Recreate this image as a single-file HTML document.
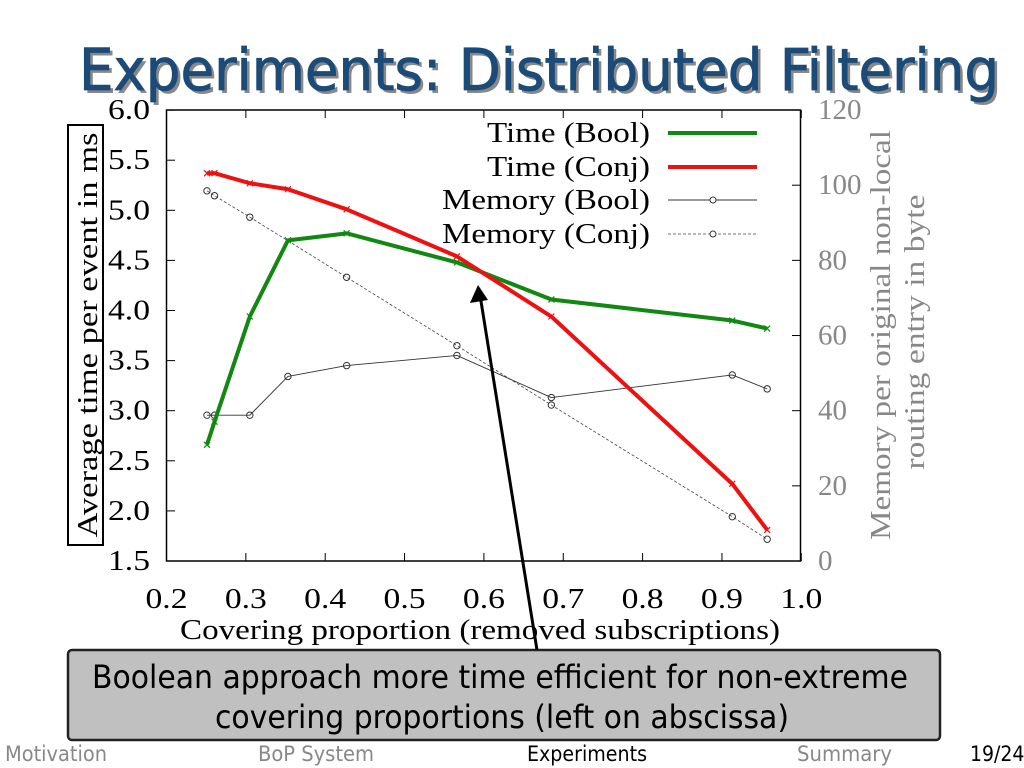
<!DOCTYPE html>
<html><head><meta charset="utf-8"><style>
html,body{margin:0;padding:0;background:#fff;width:1024px;height:768px;overflow:hidden}
svg{display:block}
.t{font-family:"Liberation Serif",serif;font-size:28px;fill:#000}
.g{fill:#888}
.f{font-family:"DejaVu Sans Condensed","Liberation Sans",sans-serif;font-size:21px}
</style></head><body>
<svg id="c" width="1024" height="768" viewBox="0 0 1024 768" xmlns="http://www.w3.org/2000/svg">
<text x="82" y="93" font-family="DejaVu Sans Condensed,Liberation Sans,sans-serif" font-size="58" fill="#888" textLength="920" lengthAdjust="spacingAndGlyphs">Experiments: Distributed Filtering</text>
<text x="79" y="90" font-family="DejaVu Sans Condensed,Liberation Sans,sans-serif" font-size="58" fill="#1b4b78" stroke="#1b4b78" stroke-width="0.8" textLength="920" lengthAdjust="spacingAndGlyphs">Experiments: Distributed Filtering</text>
<g id="plot"></g>
<rect x="68" y="125" width="35" height="420" fill="none" stroke="#000" stroke-width="2"/>
<text class="t" transform="translate(97,335) rotate(-90)" text-anchor="middle" font-size="30" textLength="405" lengthAdjust="spacingAndGlyphs">Average time per event in ms</text>
<text class="t g" transform="translate(890,335) rotate(-90)" text-anchor="middle" font-size="30" textLength="410" lengthAdjust="spacingAndGlyphs">Memory per original non-local</text>
<text class="t g" transform="translate(924,332) rotate(-90)" text-anchor="middle" font-size="30" textLength="275" lengthAdjust="spacingAndGlyphs">routing entry in byte</text>
<text class="t" x="480" y="639" text-anchor="middle" font-size="29" textLength="600" lengthAdjust="spacingAndGlyphs">Covering proportion (removed subscriptions)</text>
<rect x="68" y="650" width="872" height="90" rx="4" fill="#c0c0c0" stroke="#222" stroke-width="2.5"/>
<text x="500" y="688" text-anchor="middle" font-family="DejaVu Sans Condensed,Liberation Sans,sans-serif" font-size="32" textLength="816" lengthAdjust="spacingAndGlyphs">Boolean approach more time efficient for non-extreme</text>
<text x="502" y="728" text-anchor="middle" font-family="DejaVu Sans Condensed,Liberation Sans,sans-serif" font-size="32" textLength="574" lengthAdjust="spacingAndGlyphs">covering proportions (left on abscissa)</text>
<line x1="537" y1="650" x2="480" y2="295" stroke="#000" stroke-width="3"/>
<polygon points="478,285 470,303 488,300" fill="#000"/>
<text class="f" x="5" y="761" fill="#888" textLength="102" lengthAdjust="spacingAndGlyphs">Motivation</text>
<text class="f" x="258" y="761" fill="#888" textLength="116" lengthAdjust="spacingAndGlyphs">BoP System</text>
<text class="f" x="527" y="761" fill="#000" textLength="120" lengthAdjust="spacingAndGlyphs">Experiments</text>
<text class="f" x="797" y="761" fill="#888" textLength="95" lengthAdjust="spacingAndGlyphs">Summary</text>
<text class="f" x="970" y="761" fill="#000" font-size="19">19/24</text>
</svg>
<script>
const xsT=[0.251,0.2605,0.305,0.353,0.427,0.566,0.685,0.913,0.957];
const timeBool=[2.66,2.89,3.94,4.70,4.77,4.48,4.11,3.90,3.82];
const timeConj=[5.37,5.37,5.27,5.21,5.01,4.54,3.94,2.27,1.81];
const memBool=[38.8,38.8,38.8,49.1,52.0,54.7,43.5,49.5,45.8];
const xsMC=[0.251,0.2605,0.305,0.427,0.566,0.685,0.913,0.957];
const memConj=[98.5,97.2,91.5,75.5,57.3,41.5,11.8,5.8];
const xTicks=["0.2","0.3","0.4","0.5","0.6","0.7","0.8","0.9","1.0"];
const yTicks=["1.5","2.0","2.5","3.0","3.5","4.0","4.5","5.0","5.5","6.0"];
const y2Ticks=["0","20","40","60","80","100","120"];
const X=v=>166.5+(v-0.2)*793.5, Y=v=>561-(v-1.5)*100.2, Y2=v=>561-v*3.758;
const NS="http://www.w3.org/2000/svg", g=document.getElementById('plot');
function mk(t,a){const e=document.createElementNS(NS,t);for(const k in a)e.setAttribute(k,a[k]);g.appendChild(e);return e;}
let e=mk('rect',{x:166.5,y:110,width:634,height:451,fill:'none',stroke:'#000','stroke-width':1.5});


xTicks.forEach(t=>{const x=X(+t);
 e=mk('line',{x1:x,x2:x,y1:561,y2:553,stroke:'#000'});
 mk('line',{x1:x,x2:x,y1:110,y2:118,stroke:'#000'});
 e=mk('text',{x:x,y:608,class:'t','text-anchor':'middle',textLength:42,lengthAdjust:'spacingAndGlyphs'});e.textContent=t;});
yTicks.forEach(t=>{const y=Y(+t);
 e=mk('line',{x1:166.5,x2:175,y1:y,y2:y,stroke:'#000'});
 e=mk('text',{x:150,y:y+9,class:'t','text-anchor':'end',textLength:42,lengthAdjust:'spacingAndGlyphs'});e.textContent=t;});
y2Ticks.forEach(t=>{const y=Y2(+t);
 e=mk('line',{x1:792,x2:800.5,y1:y,y2:y,stroke:'#000'});
 e=mk('text',{x:818,y:y+9,class:'t g',textLength:t.length*14.5,lengthAdjust:'spacingAndGlyphs'});e.textContent=t;});
function series(xs,vs,fy,col,w,dash,mark,name){
 const pts=xs.map((x,i)=>X(x)+','+fy(vs[i])).join(' ');
 e=mk('polyline',{points:pts,fill:'none',stroke:col,'stroke-width':w,'stroke-dasharray':dash||'none','stroke-linejoin':'round'});
 
 xs.forEach((x,i)=>{const px=X(x),py=fy(vs[i]);
  if(mark==='o'){e=mk('circle',{cx:px,cy:py,r:3.2,fill:'none',stroke:'#333','stroke-width':1});}
  else{e=mk('path',{d:`M${px-3},${py-3}L${px+3},${py+3}M${px-3},${py+3}L${px+3},${py-3}`,stroke:col,'stroke-width':1.2});}
  });
}
series(xsMC,memConj,Y2,'#444',0.8,'3,2','o','memory-conj');
series(xsT,memBool,Y2,'#333',0.9,null,'o','memory-bool');
series(xsT,timeBool,Y,'#118811',4,null,'x','time-bool');
series(xsT,timeConj,Y,'#ee1111',4,null,'x','time-conj');
const leg=[["Time (Bool)",'#118811',4,null,'x',133,163],["Time (Conj)",'#ee1111',4,null,'x',167,163],["Memory (Bool)",'#333',0.9,null,'o',200,208],["Memory (Conj)",'#444',0.8,'3,2','o',234,208]];
leg.forEach(l=>{
 e=mk('text',{x:650,y:l[5]+9,class:'t','text-anchor':'end','font-size':30,textLength:l[6],lengthAdjust:'spacingAndGlyphs'});e.textContent=l[0];
 e=mk('line',{x1:668,x2:757,y1:l[5],y2:l[5],stroke:l[1],'stroke-width':l[2],'stroke-dasharray':l[3]||'none'});
 if(l[4]==='o'){e=mk('circle',{cx:713,cy:l[5],r:3,fill:'#fff',stroke:'#333'});}
});
</script>
</body></html>
